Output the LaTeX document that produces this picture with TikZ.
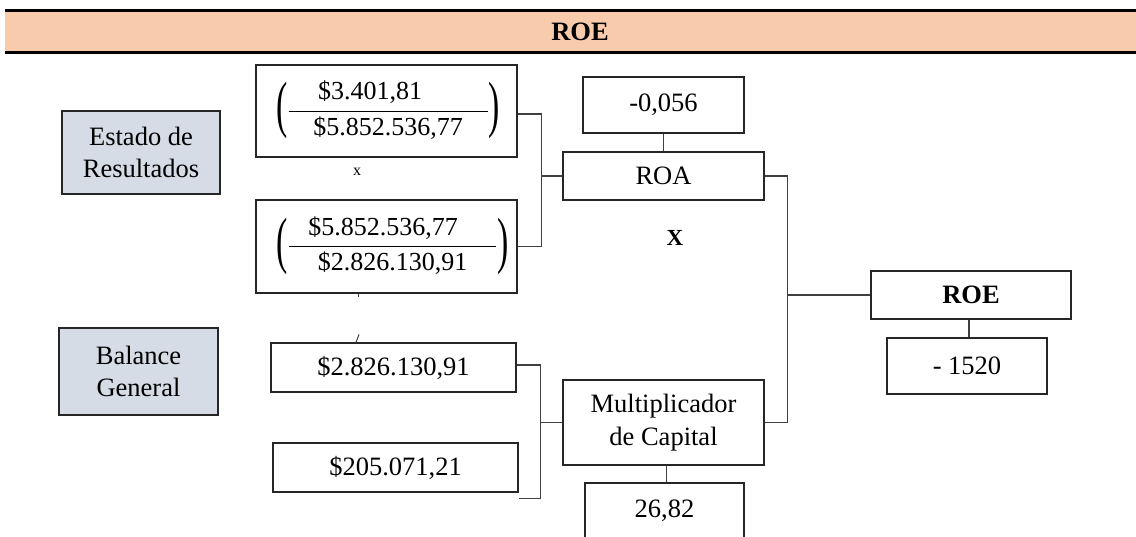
\documentclass[tikz,border=0pt]{standalone}
\usepackage{fix-cm}
\usepackage{fontspec}
\setmainfont{Liberation Serif}
\usepackage{graphicx}
\definecolor{peach}{HTML}{F8CBAD}
\definecolor{greyblue}{HTML}{D6DCE5}
\definecolor{ln}{HTML}{404040}
\newcommand{\lpar}{\raisebox{-8.5pt}{\scalebox{1.3}[2.4]{(}}}
\newcommand{\rpar}{\raisebox{-8.5pt}{\scalebox{1.3}[2.4]{)}}}
\begin{document}
\begin{tikzpicture}[x=1pt,y=-1pt,
  box/.style={draw=black!85, line width=1.2pt, inner sep=0pt, font=\fontsize{26.5}{32.5}\selectfont, align=center},
  src/.style={box, fill=greyblue},
  conn/.style={draw=ln, line width=1.3pt},
  frac/.style={anchor=base, inner sep=0pt, font=\fontsize{26}{32}\selectfont},
]
\useasboundingbox (0,0) rectangle (1136,537);
\begin{scope}
\clip (0,0) rectangle (1136,537);
% header band
\fill[peach] (5,11) rectangle (1136,53);
\draw[line width=3pt] (5,11) -- (1136,11);
\draw[line width=3pt] (5,53) -- (1136,53);
\node[font=\bfseries\fontsize{26.5}{30}\selectfont] (title) at (580,32) {ROE};

% source boxes
\node[src, minimum width=158, minimum height=83] (er) at (141,152.5) {Estado de\\Resultados};
\node[src, minimum width=159, minimum height=87] (bg) at (138.5,371.5) {Balance\\General};

% fraction boxes
\node[box, minimum width=261, minimum height=92] (f1) at (386.5,111) {};
\node[box, minimum width=261, minimum height=93] (f2) at (386.5,246.5) {};
\node[frac] (f1t) at ([xshift=1.5pt,yshift=-6.5pt]f1.center)
  {\lpar$\displaystyle\frac{\makebox[199pt]{\$3.401,81\hspace{36pt}}}{\makebox[199pt]{\$5.852.536,77}}$\rpar};
\node[frac] (f2t) at ([xshift=6pt,yshift=-6.5pt]f2.center)
  {\lpar$\displaystyle\frac{\makebox[207pt]{\$5.852.536,77\hspace{19pt}}}{\makebox[207pt]{\$2.826.130,91}}$\rpar};

\node[font=\fontsize{16}{18}\selectfont] (xa) at (357,172) {x};
\node[font=\bfseries\fontsize{23}{26}\selectfont] (xb) at (675,238) {X};

% value boxes
\node[box, minimum width=245, minimum height=49] (b3) at (393.5,367.5) {\$2.826.130,91};
\node[box, minimum width=245, minimum height=49] (b4) at (395.5,467.5) {\$205.071,21};
\node[box, minimum width=161, minimum height=56] (roav) at (663.5,105) {-0,056};
\node[box, minimum width=201, minimum height=48] (roa) at (663.5,176) {ROA};
\node[box, minimum width=201, minimum height=85] (mc) at (663.5,422.5) {Multiplicador\\de Capital};
\node[box, minimum width=159, minimum height=56] (mcv) at (664.5,511) {26,82};
\node[box, minimum width=200, minimum height=48] (roe) at (971,295) {\textbf{ROE}};
\node[box, minimum width=160, minimum height=56] (roev) at (967,366) {- 1520};

% small ticks
\draw[conn, line width=1pt] ([xshift=-28.5pt]f2.south) -- ++(0,3);
\draw[conn, line width=1pt] ([xshift=-37.5pt]b3.north) -- ++(3,-8);

% connectors
\draw[conn] ([yshift=-3pt]f1.east) -- ++(24,0) coordinate (j1) |- (f2.east);
\draw[conn] (roa.west) -- (roa.west -| j1);
\coordinate (e4) at ([yshift=-6pt]b4.south east);
\draw[conn] ([yshift=2.5pt]b3.east) -- ++(24,0) coordinate (j2) |- (e4);
\draw[conn] (mc.west) -- (mc.west -| j2);
\draw[conn] (roa.east) -- ++(23,0) coordinate (j3) |- (mc.east);
\draw[conn] (roe.west) -- (roe.west -| j3);
\draw[conn] (roav.south) -- (roa.north);
\draw[conn] ([xshift=-2pt]roe.south) -- ([xshift=2pt]roev.north);
\draw[conn] ([xshift=3pt]mc.south) -- ([xshift=2pt]mcv.north);
\end{scope}
\end{tikzpicture}
\end{document}
